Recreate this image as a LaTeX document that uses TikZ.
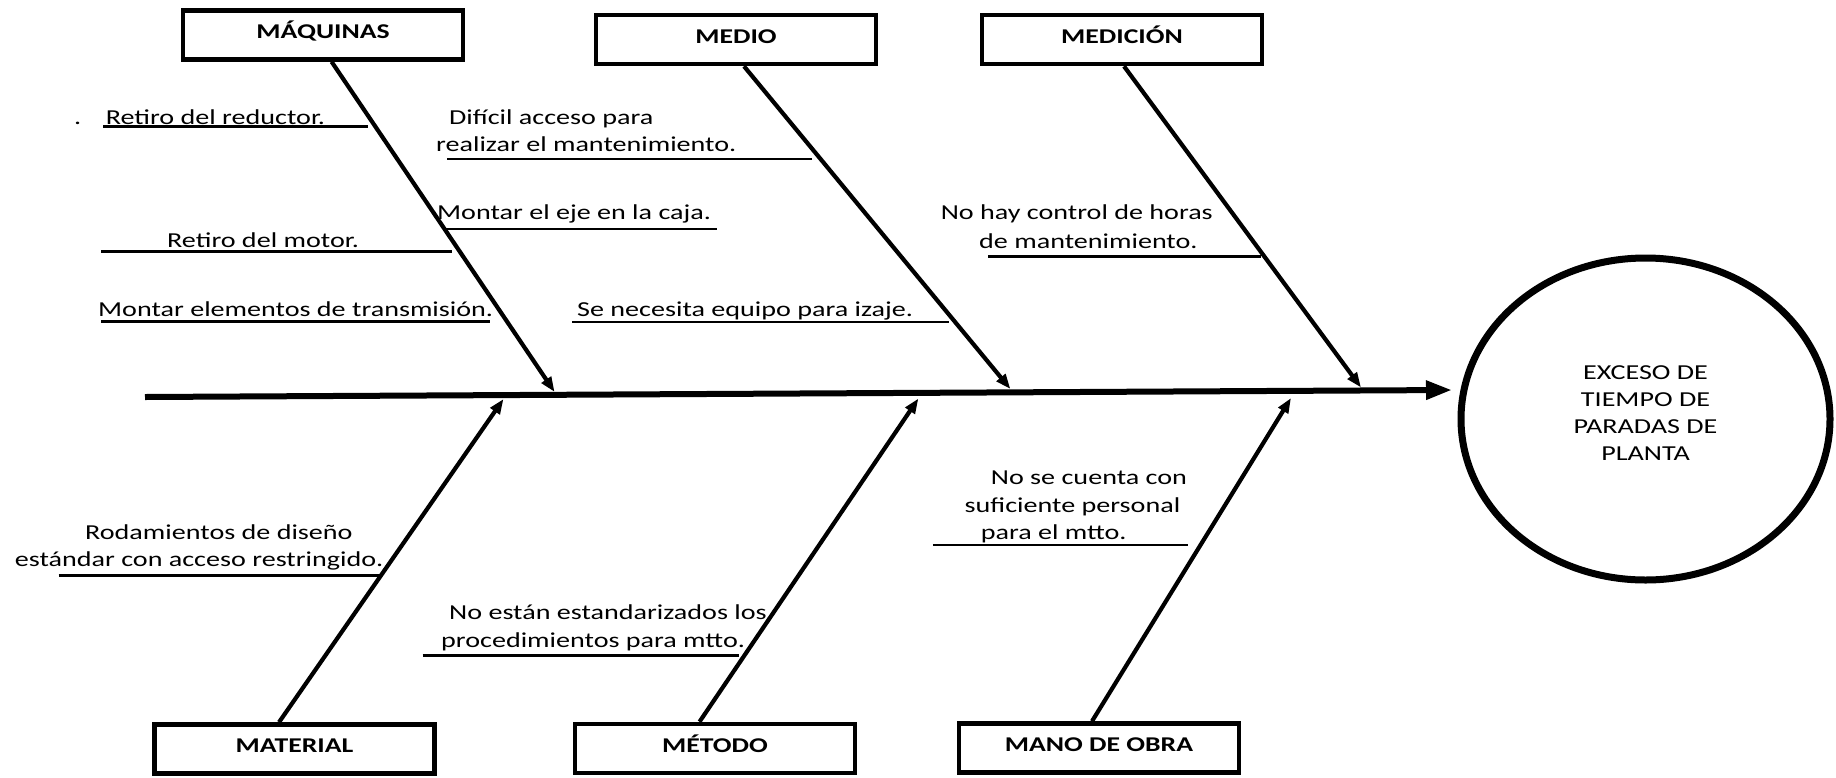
\documentclass[tikz,border=0pt]{standalone}
\usepackage{fontspec}
\setmainfont{Carlito}[FakeStretch=1.32]
\usetikzlibrary{arrows.meta,shapes.geometric}
\begin{document}
\begin{tikzpicture}[x=1pt,y=-1pt,
  catbox/.style={draw, line width=4.5pt, minimum width=280pt, minimum height=49pt, inner sep=0pt,
    font=\bfseries\fontsize{21}{25}\selectfont, text height=14pt, text depth=7pt},
  bone/.style={line width=4.2pt, -{Triangle[length=15pt,width=11pt]}},
  spinestyle/.style={line width=6pt, -{Triangle[length=26pt,width=18pt]}},
  sub/.style={line width=2.8pt},
  txt/.style={font=\fontsize{21.3}{27}\selectfont, inner sep=0pt, anchor=base west},
  efectostyle/.style={draw, ellipse, line width=7pt, minimum width=369pt, minimum height=322pt, inner sep=0pt}
]
\useasboundingbox (0,0) rectangle (1836,777);

% category boxes
\node[catbox] (maq) at (323,35) {MÁQUINAS};
\node[catbox] (med) at (736,39.5) {MEDIO};
\node[catbox] (mdc) at (1122,39.5) {MEDICIÓN};
\node[catbox] (mat) at (294.5,749) {MATERIAL};
\node[catbox] (met) at (715,748.5) {MÉTODO};
\node[catbox] (man) at (1099,748) {MANO DE OBRA};

% effect
\node[efectostyle] (efecto) at (1645.5,419) {};
\node[font=\fontsize{21.3}{27}\selectfont, align=center, inner sep=0pt] (efectotxt) at ([yshift=6pt]efecto.center)
  {EXCESO DE\\TIEMPO DE\\PARADAS DE\\PLANTA};

% spine
\coordinate (spineL) at (145,397);
\coordinate (spineR) at (1452,390);
\draw[spinestyle] (spineL) -- (spineR);

% bone tips
\coordinate (tMaq) at (554.6,392);
\coordinate (tMed) at (1010.4,389);
\coordinate (tMdc) at (1361,387.5);
\coordinate (tMat) at (503.5,399);
\coordinate (tMet) at (918.4,398.5);
\coordinate (tMan) at (1291,398);

\draw[bone] ([xshift=8.6pt]maq.south) -- (tMaq);
\draw[bone] ([xshift=8pt]med.south) -- (tMed);
\draw[bone] ([xshift=2pt]mdc.south) -- (tMdc);
\draw[bone] ([xshift=-15.5pt]mat.north) -- (tMat);
\draw[bone] ([xshift=-15.5pt]met.north) -- (tMet);
\draw[bone] ([xshift=-7pt]man.north) -- (tMan);

% sub-cause underlines
\draw[sub] (103,126.7) -- (368,126.7);
\draw[sub] (447,159) -- (811.6,159);
\draw[sub] (444,229) -- (717,229);
\draw[sub] (101,251.7) -- (452,251.7);
\draw[sub] (101,321.7) -- (490,321.7);
\draw[sub] (572,322) -- (949,322);
\draw[sub] (988,256.7) -- (1261,256.7);
\draw[sub] (58.7,575.7) -- (378.5,575.7);
\draw[sub] (422.5,655.3) -- (739.4,655.3);
\draw[sub] (932.8,545) -- (1187.8,545);

% texts
\node[txt] (dot) at (74,124) {.};
\node[txt] (c1) at (105.6,124) {Retiro del reductor.};
\node[txt] (c2a) at (449,124) {Difícil acceso para};
\node[txt] (c2b) at (436,151) {realizar el mantenimiento.};
\node[txt] (c3) at (437,219) {Montar el eje en la caja.};
\node[txt] (c4) at (167,247.5) {Retiro del motor.};
\node[txt] (c5) at (98,316) {Montar elementos de transmisión.};
\node[txt] (c6) at (577,316) {Se necesita equipo para izaje.};
\node[txt] (c7a) at (940.6,219) {No hay control de horas};
\node[txt] (c7b) at (979,248.5) {de mantenimiento.};
\node[txt] (c8a) at (85,539) {Rodamientos de diseño};
\node[txt] (c8b) at (14.7,566.5) {estándar con acceso restringido.};
\node[txt] (c9a) at (449,619) {No están estandarizados los};
\node[txt] (c9b) at (441,647.5) {procedimientos para mtto.};
\node[txt] (c10a) at (990.7,484) {No se cuenta con};
\node[txt] (c10b) at (964.5,512) {suficiente personal};
\node[txt] (c10c) at (980.6,539) {para el mtto.};
\end{tikzpicture}
\end{document}
